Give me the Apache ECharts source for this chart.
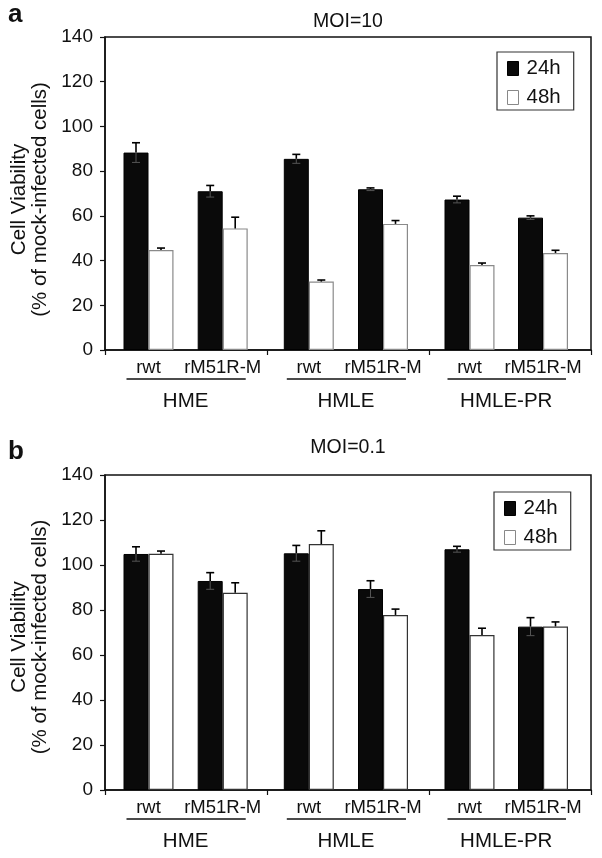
<!DOCTYPE html>
<html><head><meta charset="utf-8">
<script src="https://cdn.jsdelivr.net/npm/echarts@6/dist/echarts.min.js"></script>
<style>html,body{margin:0;padding:0;background:#fff}#c{width:602px;height:858px}</style>
</head><body><div id="c"></div>
<script>
// ---------- data ----------
const groups = ['HME', 'HMLE', 'HMLE-PR'];
const viruses = ['rwt', 'rM51R-M'];
const seriesNames = ['24h', '48h'];
const yMin = 0, yMax = 140, yStep = 20;
const yAxisTitle = 'Cell Viability\n(% of mock-infected cells)';

// order: HME rwt, HME rM51R-M, HMLE rwt, HMLE rM51R-M, HMLE-PR rwt, HMLE-PR rM51R-M
// panel a : MOI=10
const moi10_24h    = [88.3, 71.0, 85.5, 71.9, 67.3, 59.2];
const moi10_24hErr = [4.4, 2.6, 2.0, 0.6, 1.5, 0.8];
const moi10_48h    = [44.7, 54.4, 30.6, 56.4, 38.0, 43.4];
const moi10_48hErr = [0.9, 5.0, 0.7, 1.5, 0.9, 1.2];
// panel b : MOI=0.1
const moi01_24h    = [104.9, 92.9, 105.2, 89.3, 107.0, 72.6];
const moi01_24hErr = [3.2, 3.7, 3.5, 3.7, 1.3, 4.0];
const moi01_48h    = [105.0, 87.7, 109.3, 77.8, 68.9, 72.7];
const moi01_48hErr = [1.2, 4.4, 5.9, 2.6, 3.0, 2.0];

// ---------- layout ----------
const FONT = "'Liberation Sans', Arial, sans-serif";
const TXT = '#111';
const frameL = 105, frameR = 591;
const barW = 25;
const groupCenters = [[148.5, 222.7], [308.8, 383.0], [469.5, 543.0]];

const panels = [
  { letter: 'a', title: 'MOI=10', letterTop: 2, titleTop: 12, top: 37, height: 313,
    v24: moi10_24h, e24: moi10_24hErr, v48: moi10_48h, e48: moi10_48hErr,
    whiteBorder: '#8a8a8a', legendLeft: 497, legendTop: 52, nameShift: 12 },
  { letter: 'b', title: 'MOI=0.1', letterTop: 439, titleTop: 438, top: 475, height: 315,
    v24: moi01_24h, e24: moi01_24hErr, v48: moi01_48h, e48: moi01_48hErr,
    whiteBorder: '#333', legendLeft: 494, legendTop: 492, nameShift: 9 }
];

function renderErr(params, api) {
  const x = api.value(0), v = api.value(1), e = api.value(2), side = api.value(3);
  const base = api.coord([x, v]);
  const top = api.coord([x, v + e]);
  const low = api.coord([x, v - e]);
  const cx = base[0] + side * barW / 2;
  const children = [
    { type: 'line', shape: { x1: cx, y1: base[1], x2: cx, y2: top[1] }, style: { stroke: '#000', lineWidth: 1.6 } },
    { type: 'line', shape: { x1: cx - 4, y1: top[1], x2: cx + 4, y2: top[1] }, style: { stroke: '#000', lineWidth: 1.6 } }
  ];
  if (side < 0) {
    children.push({ type: 'line', shape: { x1: cx, y1: base[1], x2: cx, y2: low[1] }, style: { stroke: '#555', lineWidth: 1 } });
    children.push({ type: 'line', shape: { x1: cx - 4, y1: low[1], x2: cx + 4, y2: low[1] }, style: { stroke: '#555', lineWidth: 1 } });
  }
  return { type: 'group', children };
}

const option = { animation: false, backgroundColor: '#fff', title: [], legend: [], grid: [], xAxis: [], yAxis: [], series: [], graphic: [] };

panels.forEach((p) => {
  const bottom = p.top + p.height;
  option.title.push({ text: p.letter, left: 8, top: p.letterTop, padding: 0,
    textStyle: { fontFamily: FONT, fontSize: 26, fontWeight: 'bold', color: TXT } });
  option.title.push({ text: p.title, left: (frameL + frameR) / 2, textAlign: 'center', top: p.titleTop, padding: 0,
    textStyle: { fontFamily: FONT, fontSize: 19.5, fontWeight: 'normal', color: TXT } });

  option.legend.push({
    data: [
      { name: seriesNames[0], itemStyle: { color: '#0a0a0a', borderColor: '#000', borderWidth: 1 } },
      { name: seriesNames[1], itemStyle: { color: '#fff', borderColor: '#888', borderWidth: 1 } }
    ],
    orient: 'vertical', left: p.legendLeft, top: p.legendTop, icon: 'rect',
    itemWidth: 11, itemHeight: 14, itemGap: 8, padding: [6, 13, 2, 10],
    borderColor: '#333', borderWidth: 1.2, selectedMode: false,
    textStyle: { fontFamily: FONT, fontSize: 20.5, color: TXT, padding: [0, 0, 0, 3] }
  });

  const fg = option.grid.length;
  option.grid.push({ left: frameL, width: frameR - frameL, top: p.top, height: p.height,
    show: true, borderColor: '#111', borderWidth: 1.5, backgroundColor: 'transparent' });
  option.xAxis.push({ type: 'category', gridIndex: fg, data: groups,
    axisLine: { lineStyle: { color: '#111', width: 1.5 } },
    axisTick: { show: true, length: 5, lineStyle: { color: '#111', width: 1.2 } },
    axisLabel: { show: false }, splitLine: { show: false } });
  option.yAxis.push({ type: 'value', gridIndex: fg, min: yMin, max: yMax, interval: yStep,
    axisLine: { show: true, lineStyle: { color: '#111', width: 1.5 } },
    axisTick: { show: true, length: 5, lineStyle: { color: '#111', width: 1.2 } },
    axisLabel: { margin: 12, fontFamily: FONT, fontSize: 19, color: TXT },
    splitLine: { show: false },
    name: yAxisTitle, nameLocation: 'middle', nameGap: 49, nameRotate: 90,
    nameTextStyle: { fontFamily: FONT, fontSize: 20.5, lineHeight: 21, color: TXT, padding: [0, p.nameShift, 0, 0] } });

  groups.forEach((g, gi) => {
    const c1 = groupCenters[gi][0], c2 = groupCenters[gi][1];
    const w = c2 - c1;
    const gIdx = option.grid.length;
    option.grid.push({ left: c1 - w / 2, width: 2 * w, top: p.top, height: p.height });
    const xi = option.xAxis.length;
    option.xAxis.push({ type: 'category', gridIndex: gIdx, data: viruses,
      axisLine: { show: false }, axisTick: { show: false },
      axisLabel: { margin: 8, interval: 0, fontFamily: FONT, fontSize: 18.5, color: TXT } });
    option.xAxis.push({ type: 'category', gridIndex: gIdx, position: 'bottom', offset: 34, data: [g],
      axisLine: { show: false }, axisTick: { show: false },
      axisLabel: { margin: 7, fontFamily: FONT, fontSize: 20.5, color: TXT } });
    const yi = option.yAxis.length;
    option.yAxis.push({ type: 'value', gridIndex: gIdx, min: yMin, max: yMax, show: false });

    const s = gi * 2;
    const v24 = p.v24.slice(s, s + 2), e24 = p.e24.slice(s, s + 2);
    const v48 = p.v48.slice(s, s + 2), e48 = p.e48.slice(s, s + 2);
    option.series.push({ type: 'bar', name: seriesNames[0], xAxisIndex: xi, yAxisIndex: yi, data: v24,
      barWidth: barW, barGap: '0%', itemStyle: { color: '#0a0a0a', borderColor: '#000', borderWidth: 1 } });
    option.series.push({ type: 'bar', name: seriesNames[1], xAxisIndex: xi, yAxisIndex: yi, data: v48,
      barWidth: barW, barGap: '0%', itemStyle: { color: '#fff', borderColor: p.whiteBorder, borderWidth: 1.2 } });
    const errData = [];
    v24.forEach((v, i) => errData.push([i, v, e24[i], -1]));
    v48.forEach((v, i) => errData.push([i, v, e48[i], 1]));
    option.series.push({ type: 'custom', name: 'error', xAxisIndex: xi, yAxisIndex: yi, z: 5,
      renderItem: renderErr, encode: { x: 0, y: 1 }, data: errData });

    option.graphic.push({ type: 'line', silent: true,
      shape: { x1: c1 - 22, y1: bottom + 29, x2: c2 + 23, y2: bottom + 29 },
      style: { stroke: '#111', lineWidth: 1.5 } });
  });
});

const chart = echarts.init(document.getElementById('c'), null, { renderer: 'canvas' });
chart.setOption(option);
</script>
</body></html>
